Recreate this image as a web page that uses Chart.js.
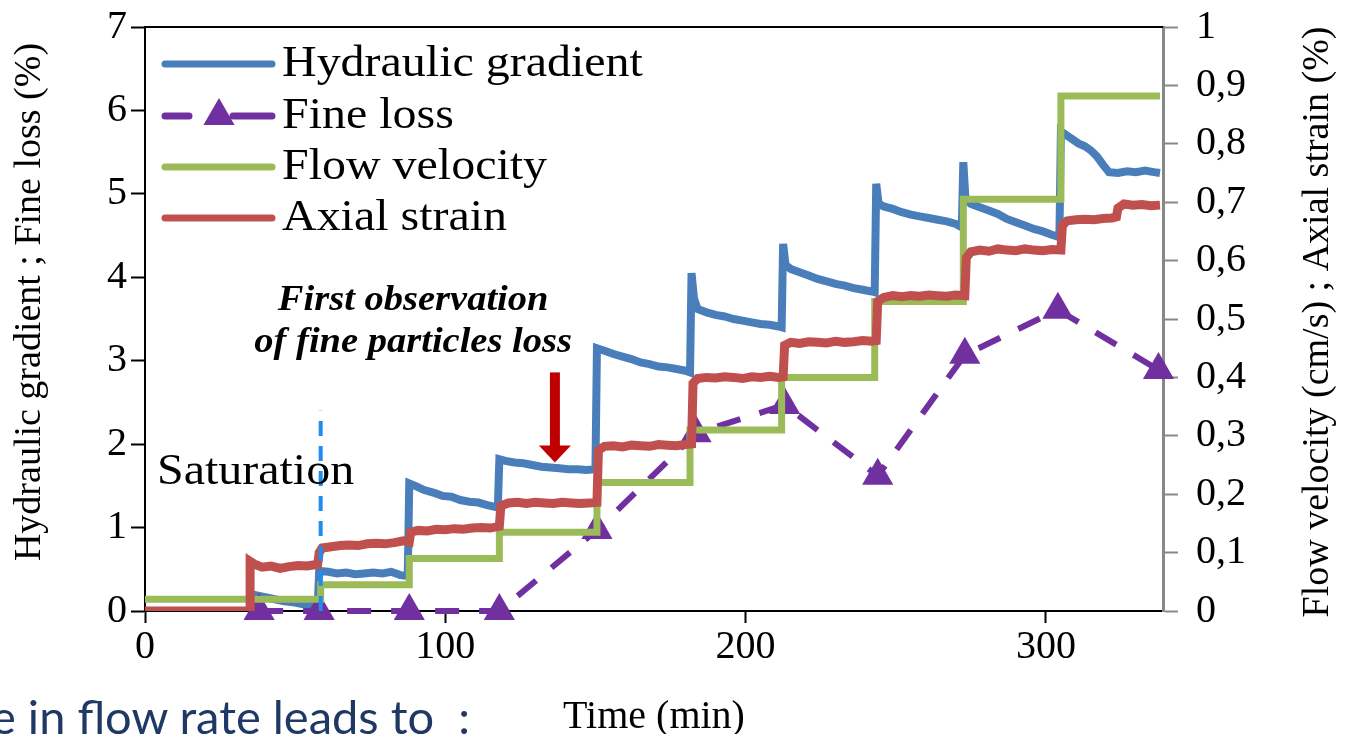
<!DOCTYPE html>
<html>
<head>
<meta charset="utf-8">
<script src="https://cdn.jsdelivr.net/npm/chart.js@4.4.1/dist/chart.umd.min.js"></script>
<style>
  html, body { margin: 0; padding: 0; background: #fff; overflow: hidden; }
  #wrap { position: relative; width: 1347px; height: 734px; overflow: hidden; }
  #slideText { position: absolute; left: -9px; top: 693px; font: 47px Lato, sans-serif; line-height: 1; color: #1F3864; white-space: pre; }
</style>
</head>
<body>
<div id="wrap">
  <canvas id="chart" width="1347" height="734"></canvas>
  <div id="slideText">e in flow rate leads to  :</div>
</div>
<script>
// time in minutes, hydraulic gradient / fine loss on the left axis
const hydTime = [0, 35, 35.5, 38, 42, 46, 50, 54, 57.5,
  58, 61, 64, 67, 70, 73, 76, 79, 82, 85, 87.5,
  88, 90, 93, 96, 99, 102, 105, 108, 111, 114, 117.5,
  118, 120, 123, 126, 129, 132, 135, 138, 141, 144, 147, 150,
  150.5, 153, 156, 159, 162, 165, 168, 171, 174, 177, 180, 181.5,
  182, 182.8, 184, 187, 190, 193, 196, 199, 202, 205, 208, 211, 212,
  212.5, 213.3, 215, 218, 221, 224, 227, 230, 233, 236, 239, 242, 243,
  243.5, 244.3, 246, 249, 252, 255, 258, 261, 264, 267, 270, 272,
  272.5, 273.2, 275, 278, 281, 284, 287, 290, 293, 296, 299, 302, 304.5,
  305, 307, 309, 311, 313, 315, 317, 319, 321, 324, 327, 330, 333, 336, 338];
const hydValue = [0, 0, 0.2, 0.18, 0.15, 0.12, 0.1, 0.07, 0.05,
  0.48, 0.47, 0.45, 0.46, 0.44, 0.45, 0.46, 0.45, 0.47, 0.43, 0.42,
  1.53, 1.5, 1.45, 1.42, 1.38, 1.37, 1.33, 1.31, 1.3, 1.27, 1.24,
  1.82, 1.8, 1.78, 1.77, 1.75, 1.73, 1.72, 1.71, 1.7, 1.7, 1.69, 1.7,
  3.15, 3.12, 3.08, 3.05, 3.02, 2.98, 2.96, 2.93, 2.92, 2.9, 2.88, 2.86,
  4.05, 3.75, 3.62, 3.58, 3.55, 3.53, 3.5, 3.48, 3.46, 3.44, 3.43, 3.41, 3.4,
  4.4, 4.15, 4.1, 4.06, 4.02, 3.98, 3.95, 3.92, 3.9, 3.87, 3.85, 3.83, 3.82,
  5.12, 4.88, 4.85, 4.82, 4.78, 4.75, 4.73, 4.71, 4.69, 4.67, 4.64, 4.6,
  5.38, 4.95, 4.88, 4.84, 4.8, 4.76, 4.7, 4.66, 4.62, 4.58, 4.55, 4.51, 4.48,
  5.75, 5.7, 5.65, 5.6, 5.57, 5.52, 5.45, 5.35, 5.26, 5.25, 5.27, 5.26, 5.28, 5.26, 5.25];

const lossTime = [38, 58, 88, 118, 150.5, 183.5, 213, 244, 273, 304, 337.5];
const lossValue = [0, 0, 0, 0, 0.97, 2.13, 2.47, 1.62, 3.07, 3.61, 2.89];

// flow velocity (cm/s) and axial strain (%) on the right axis
const velTime = [0, 58.5, 58.5, 88, 88, 118, 118, 150.5, 150.5, 181.5, 181.5, 212, 212, 243, 243, 272.5, 272.5, 305, 305, 338];
const velValue = [0.02, 0.02, 0.045, 0.045, 0.09, 0.09, 0.135, 0.135, 0.22, 0.22, 0.31, 0.31, 0.4, 0.4, 0.53, 0.53, 0.705, 0.705, 0.882, 0.882];

const strainTime = [0, 35, 35, 36.5, 39, 42, 45, 48, 51, 54, 57.5,
  58, 59, 62, 65, 68, 71, 74, 77, 80, 83, 86, 88,
  88.5, 91, 94, 97, 100, 103, 106, 109, 112, 115, 118,
  118.5, 121, 124, 127, 130, 133, 136, 139, 142, 145, 148, 150.5,
  151, 153, 156, 159, 162, 165, 168, 171, 174, 177, 180, 182,
  182.5, 184, 187, 190, 193, 196, 199, 202, 205, 208, 211, 212.5,
  213, 215, 218, 221, 224, 227, 230, 233, 236, 239, 242, 243.5,
  244, 246, 249, 252, 255, 258, 261, 264, 267, 270, 273,
  273.5, 275, 278, 281, 284, 287, 290, 293, 296, 299, 302, 305,
  305.5, 307, 310, 313, 316, 319, 322, 323.5, 324, 326, 329, 332, 335, 338];
const strainValue = [0, 0, 0.085, 0.08, 0.075, 0.077, 0.073, 0.076, 0.078, 0.077, 0.08,
  0.1, 0.108, 0.11, 0.112, 0.113, 0.112, 0.115, 0.116, 0.115, 0.117, 0.12, 0.118,
  0.135, 0.138, 0.137, 0.14, 0.139, 0.141, 0.14, 0.142, 0.143, 0.142, 0.145,
  0.18, 0.185, 0.186, 0.184, 0.186, 0.185, 0.184, 0.186, 0.185, 0.184, 0.185, 0.186,
  0.275, 0.282, 0.283, 0.281, 0.284, 0.283, 0.282, 0.285, 0.284, 0.283, 0.285, 0.286,
  0.39, 0.398, 0.4, 0.399, 0.401, 0.4, 0.398, 0.401, 0.4, 0.402, 0.4, 0.401,
  0.455, 0.46, 0.458, 0.461, 0.46, 0.459, 0.462, 0.46, 0.461, 0.463, 0.462, 0.463,
  0.53, 0.537, 0.54, 0.538, 0.54, 0.539, 0.541, 0.54, 0.539, 0.541, 0.54,
  0.605, 0.615, 0.618, 0.616, 0.62, 0.618, 0.617, 0.62, 0.618, 0.617, 0.619, 0.618,
  0.66, 0.668, 0.67, 0.671, 0.67, 0.672, 0.673, 0.675, 0.69, 0.697, 0.695, 0.696, 0.694, 0.695];

// saturation marker and annotation anchors (time, left-axis value)
const saturationTime = [58.5, 58.5];
const saturationValue = [0, 2.4];
const saturationLabelAt = [4, 1.66];
const observationLines = ['First observation', 'of fine particles loss'];
const observationAt = [89.3, 3.72];
const arrowTime = 136.5;
const arrowFrom = 2.86;
const arrowTo = 1.78;

const xTicks = [0, 100, 200, 300];
const leftTitle = 'Hydraulic gradient ; Fine loss (%)';
const rightTitle = 'Flow velocity (cm/s) ; Axial strain (%)';

const serif = '"Liberation Serif", "Times New Roman", serif';
const toXY = (xs, ys) => xs.map((x, i) => ({ x: x, y: ys[i] }));

// the source figure's lettering is a little wider than plain Times
function wideText(ctx, text, x, y, stretch, angle) {
  ctx.save();
  ctx.translate(x, y);
  if (angle) ctx.rotate(angle);
  ctx.scale(stretch, 1);
  ctx.fillText(text, 0, 0);
  ctx.restore();
}

const overlay = {
  id: 'overlay',
  afterDatasetsDraw(chart) {
    const { ctx, chartArea, scales } = chart;
    const x = scales.x, y = scales.y;
    ctx.save();

    // frame top edge
    ctx.strokeStyle = '#000';
    ctx.lineWidth = 2;
    ctx.beginPath();
    ctx.moveTo(chartArea.left, chartArea.top);
    ctx.lineTo(chartArea.right, chartArea.top);
    ctx.stroke();

    ctx.fillStyle = '#000';
    ctx.textBaseline = 'middle';

    // axis titles, both read bottom to top
    ctx.textAlign = 'center';
    ctx.font = '38px ' + serif;
    wideText(ctx, leftTitle, 30, 302, 1, -Math.PI / 2);
    wideText(ctx, rightTitle, 1318, 322, 1, -Math.PI / 2);

    ctx.textAlign = 'left';
    ctx.font = '44px ' + serif;
    wideText(ctx, 'Saturation', x.getPixelForValue(saturationLabelAt[0]), y.getPixelForValue(saturationLabelAt[1]), 1.09);

    ctx.font = 'italic bold 35px ' + serif;
    ctx.textAlign = 'center';
    observationLines.forEach(function(t, i) {
      wideText(ctx, t, x.getPixelForValue(observationAt[0]), y.getPixelForValue(observationAt[1]) + i * 42, 1.1);
    });

    // red arrow
    const ax = x.getPixelForValue(arrowTime);
    const y0 = y.getPixelForValue(arrowFrom);
    const y1 = y.getPixelForValue(arrowTo);
    ctx.fillStyle = '#C00000';
    ctx.fillRect(ax - 5, y0, 10, y1 - y0 - 16);
    ctx.beginPath();
    ctx.moveTo(ax - 16, y1 - 17);
    ctx.lineTo(ax + 16, y1 - 17);
    ctx.lineTo(ax, y1);
    ctx.closePath();
    ctx.fill();

    // legend
    const sx0 = chartArea.left + 20, sx1 = chartArea.left + 127;
    const rows = [37, 89, 140, 191];
    ctx.font = '44px ' + serif;
    ctx.textAlign = 'left';
    chart.data.datasets.filter(d => d.label).forEach(function(d, i) {
      const ry = chartArea.top + rows[i];
      ctx.strokeStyle = d.borderColor;
      ctx.lineWidth = 7;
      ctx.lineCap = 'round';
      ctx.beginPath();
      if (d.pointRadius > 0) {
        ctx.moveTo(sx0, ry); ctx.lineTo(sx0 + 24, ry);
        ctx.moveTo(sx0 + 68, ry); ctx.lineTo(sx1, ry);
        ctx.stroke();
        const cx = sx0 + 54, r = 18;
        ctx.fillStyle = d.borderColor;
        ctx.beginPath();
        ctx.moveTo(cx, ry - r);
        ctx.lineTo(cx + r * 0.866, ry + r / 2);
        ctx.lineTo(cx - r * 0.866, ry + r / 2);
        ctx.closePath();
        ctx.fill();
      } else {
        ctx.moveTo(sx0, ry); ctx.lineTo(sx1, ry);
        ctx.stroke();
      }
      ctx.fillStyle = '#000';
      wideText(ctx, d.label, sx1 + 10, ry, 1.09);
    });
    ctx.restore();
  }
};

new Chart(document.getElementById('chart'), {
  type: 'line',
  data: {
    datasets: [{
      label: 'Hydraulic gradient',
      data: toXY(hydTime, hydValue),
      borderColor: '#4A7EBB',
      borderWidth: 8,
      pointRadius: 0,
      yAxisID: 'y',
      order: 3
    }, {
      label: 'Fine loss',
      data: toXY(lossTime, lossValue),
      borderColor: '#7030A0',
      backgroundColor: '#7030A0',
      borderWidth: 6,
      borderDash: [24, 20],
      pointStyle: 'triangle',
      pointRadius: 18,
      pointBorderWidth: 0,
      pointBackgroundColor: '#7030A0',
      clip: false,
      yAxisID: 'y',
      order: 2
    }, {
      label: 'Flow velocity',
      data: toXY(velTime, velValue),
      borderColor: '#9BBB59',
      borderWidth: 7,
      pointRadius: 0,
      yAxisID: 'y1',
      order: 1
    }, {
      label: 'Axial strain',
      data: toXY(strainTime, strainValue),
      borderColor: '#C0504D',
      borderWidth: 9,
      pointRadius: 0,
      yAxisID: 'y1',
      order: 0
    }, {
      data: toXY(saturationTime, saturationValue),
      borderColor: '#1E8CF0',
      borderWidth: 4,
      borderDash: [15, 10],
      pointRadius: 0,
      yAxisID: 'y',
      order: -1
    }]
  },
  options: {
    responsive: false,
    animation: false,
    events: [],
    layout: { padding: { top: 27 } },
    plugins: { legend: { display: false }, tooltip: { enabled: false } },
    scales: {
      x: {
        type: 'linear',
        min: 0,
        max: 339,
        afterBuildTicks: function(s) { s.ticks = xTicks.map(v => ({ value: v })); },
        afterFit: function(s) { s.height = 123; },
        grid: { drawOnChartArea: false, tickLength: 12, tickWidth: 2, tickColor: '#000' },
        border: { color: '#000', width: 2 },
        ticks: { color: '#000', font: { family: serif, size: 40 }, padding: 0, maxRotation: 0 },
        title: { display: true, text: 'Time (min)', color: '#000', font: { family: serif, size: 40 }, padding: { top: 0, bottom: -7 } }
      },
      y: {
        position: 'left',
        min: 0,
        max: 7,
        afterFit: function(s) { s.width = 145; s.paddingTop = 0; s.paddingBottom = 0; },
        grid: { drawOnChartArea: false, tickLength: 14, tickWidth: 2, tickColor: '#000' },
        border: { color: '#000', width: 2 },
        ticks: { stepSize: 1, color: '#000', font: { family: serif, size: 40 }, padding: 4 }
      },
      y1: {
        position: 'right',
        min: 0,
        max: 1,
        afterFit: function(s) { s.width = 184; s.paddingTop = 0; s.paddingBottom = 0; },
        grid: { drawOnChartArea: false, tickLength: 15, tickWidth: 2, tickColor: '#888' },
        border: { color: '#888', width: 3 },
        ticks: {
          stepSize: 0.1,
          color: '#000',
          font: { family: serif, size: 40 },
          padding: 18,
          callback: function(v) {
            const r = Math.round(v * 10) / 10;
            return (r === 0 || r === 1) ? String(r) : r.toFixed(1).replace('.', ',');
          }
        }
      }
    }
  },
  plugins: [overlay]
});
</script>
</body>
</html>
